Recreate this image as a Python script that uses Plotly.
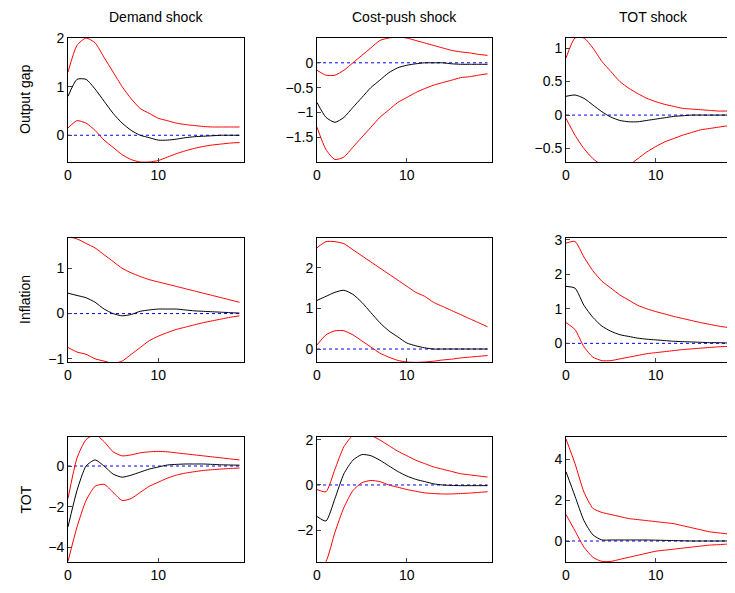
import plotly.graph_objects as go

t = list(range(20))
col_titles = ["Demand shock", "Cost-push shock", "TOT shock"]
row_titles = ["Output gap", "Inflation", "TOT"]

mean = [
 [[0.8,1.15,1.15,0.95,0.7,0.45,0.25,0.1,0,-0.05,-0.1,-0.1,-0.08,-0.05,-0.03,-0.02,-0.01,0,0,0],
  [-0.8,-1.1,-1.2,-1.1,-0.9,-0.7,-0.5,-0.35,-0.2,-0.1,-0.05,-0.02,0,0,0,-0.02,-0.03,-0.03,-0.03,-0.03],
  [0.28,0.3,0.25,0.15,0.05,-0.03,-0.08,-0.1,-0.1,-0.08,-0.06,-0.04,-0.02,-0.01,0,0,0,0,0,0]],
 [[0.45,0.4,0.35,0.25,0.1,0,-0.05,-0.02,0.05,0.08,0.1,0.1,0.1,0.08,0.06,0.05,0.04,0.03,0.02,0.01],
  [1.2,1.3,1.4,1.45,1.35,1.15,0.9,0.65,0.45,0.3,0.15,0.08,0.03,0,0,0,0,0,0,0],
  [1.65,1.6,1.1,0.75,0.5,0.35,0.25,0.2,0.15,0.12,0.1,0.08,0.06,0.05,0.04,0.03,0.02,0.02,0.01,0.01]],
 [[-3,-1.2,0,0.3,0,-0.4,-0.55,-0.45,-0.3,-0.15,-0.05,0.05,0.08,0.1,0.1,0.1,0.08,0.06,0.05,0.04],
  [-1.4,-1.6,-0.6,0.5,1.1,1.35,1.3,1.1,0.85,0.6,0.4,0.25,0.15,0.05,0,-0.02,-0.03,-0.03,-0.03,-0.03],
  [3.4,2.2,1.0,0.3,0.05,0.05,0.05,0.05,0.05,0.05,0.04,0.03,0.02,0.01,0,0,0,0,0,0]],
]
upper = [
 [[1.3,1.85,2.0,1.9,1.6,1.3,1.0,0.75,0.55,0.45,0.35,0.3,0.25,0.22,0.2,0.18,0.17,0.17,0.17,0.17],
  [-0.15,-0.25,-0.25,-0.15,0,0.15,0.3,0.45,0.5,0.52,0.5,0.45,0.4,0.35,0.3,0.25,0.22,0.2,0.17,0.15],
  [0.85,1.15,1.15,1.0,0.8,0.65,0.5,0.4,0.32,0.25,0.2,0.16,0.13,0.1,0.09,0.08,0.07,0.06,0.06,0.05]],
 [[1.7,1.65,1.55,1.45,1.3,1.15,1.0,0.9,0.82,0.75,0.7,0.65,0.6,0.55,0.5,0.45,0.4,0.35,0.3,0.25],
  [2.5,2.65,2.65,2.6,2.45,2.3,2.15,2.0,1.85,1.7,1.55,1.4,1.3,1.15,1.05,0.95,0.85,0.75,0.65,0.55],
  [2.9,2.95,2.5,2.1,1.8,1.6,1.4,1.25,1.1,1.0,0.92,0.85,0.78,0.72,0.66,0.6,0.55,0.5,0.46,0.42]],
 [[-1.6,0.4,1.3,1.55,1.2,0.7,0.5,0.55,0.65,0.7,0.72,0.7,0.65,0.6,0.55,0.5,0.45,0.4,0.35,0.3],
  [-0.2,-0.3,0.7,1.7,2.2,2.3,2.2,2.0,1.75,1.5,1.3,1.1,0.95,0.8,0.7,0.6,0.5,0.45,0.4,0.35],
  [5.0,3.8,2.4,1.6,1.4,1.3,1.2,1.1,1.05,1.0,0.95,0.9,0.85,0.75,0.65,0.55,0.45,0.4,0.35,0.3]],
]
lower = [
 [[0.15,0.3,0.25,0.1,-0.1,-0.25,-0.4,-0.5,-0.55,-0.55,-0.52,-0.45,-0.38,-0.32,-0.27,-0.23,-0.2,-0.18,-0.16,-0.15],
  [-1.3,-1.75,-1.95,-1.9,-1.7,-1.5,-1.3,-1.1,-0.95,-0.8,-0.7,-0.6,-0.52,-0.45,-0.4,-0.35,-0.3,-0.28,-0.25,-0.22],
  [-0.05,-0.3,-0.5,-0.65,-0.75,-0.8,-0.8,-0.75,-0.65,-0.55,-0.47,-0.4,-0.35,-0.3,-0.26,-0.22,-0.2,-0.18,-0.16,-0.15]],
 [[-0.75,-0.85,-0.9,-1.0,-1.05,-1.1,-1.05,-0.9,-0.75,-0.6,-0.5,-0.42,-0.35,-0.3,-0.25,-0.2,-0.16,-0.12,-0.08,-0.05],
  [0.1,0.35,0.45,0.45,0.35,0.2,0.05,-0.1,-0.2,-0.28,-0.32,-0.33,-0.32,-0.3,-0.27,-0.25,-0.22,-0.2,-0.18,-0.16],
  [0.6,0.4,-0.1,-0.4,-0.5,-0.5,-0.45,-0.4,-0.35,-0.3,-0.27,-0.24,-0.21,-0.18,-0.16,-0.14,-0.12,-0.1,-0.09,-0.08]],
 [[-4.7,-3,-1.7,-1.0,-0.9,-1.3,-1.7,-1.6,-1.3,-1.0,-0.8,-0.6,-0.45,-0.35,-0.28,-0.22,-0.18,-0.15,-0.12,-0.1],
  [-3.8,-3.4,-2.1,-1.0,-0.25,0.1,0.2,0.15,0,-0.1,-0.2,-0.28,-0.35,-0.38,-0.4,-0.4,-0.38,-0.36,-0.33,-0.3],
  [1.3,0.5,-0.3,-0.8,-1.0,-1.0,-0.9,-0.8,-0.7,-0.6,-0.5,-0.45,-0.4,-0.35,-0.3,-0.25,-0.2,-0.18,-0.15,-0.12]],
]
yranges = [[[-0.55,2],[-2,0.5],[-0.7,1.15]],
           [[-1.07,1.67],[-0.32,2.74],[-0.54,3.05]],
           [[-4.73,1.43],[-3.42,2.13],[-1.03,5.1]]]
yticks = [[[0,1,2],[-1.5,-1,-0.5,0],[-0.5,0,0.5,1]],
          [[-1,0,1],[0,1,2],[0,1,2,3]],
          [[-4,-2,0],[-2,0,2],[0,2,4]]]

W, H = 760, 593
OFF = 8  # page body margin
colpx = [(68,244),(317,492),(566,741)]
rowpx = [(38,162),(238,362),(437,562)]
font = dict(family="Arial", size=14, color="black")

def fx(p): return (p-OFF)/W
def fy(p): return 1-(p-OFF)/H

fig = go.Figure()
ann = []
for r in range(3):
    for c in range(3):
        k = r*3+c+1
        xa = "x" if k == 1 else f"x{k}"
        ya = "y" if k == 1 else f"y{k}"
        fig.add_trace(go.Scatter(x=[0,19], y=[0,0], mode="lines", xaxis=xa, yaxis=ya,
                                 line=dict(color="blue", width=1, dash="dot"), showlegend=False))
        for s, col in ((upper, "red"), (lower, "red"), (mean, "black")):
            fig.add_trace(go.Scatter(x=t, y=s[r][c], mode="lines", xaxis=xa, yaxis=ya,
                                     line=dict(color=col, width=1, shape="spline", smoothing=0.6),
                                     showlegend=False))
        axs = "" if k == 1 else str(k)
        x0, x1 = colpx[c]; y0, y1 = rowpx[r]
        fig.layout["xaxis"+axs] = dict(domain=[fx(x0), fx(x1)], anchor=ya, range=[0,19.5],
            tickvals=[0,10], ticks="inside", ticklen=4, showline=True, mirror=True, automargin=False,
            linecolor="black", linewidth=1, showgrid=False, zeroline=False, tickfont=font)
        fig.layout["yaxis"+axs] = dict(domain=[fy(y1), fy(y0)], anchor=xa, range=yranges[r][c],
            tickvals=yticks[r][c], ticks="inside", ticklen=4, showline=True, mirror=True, automargin=False,
            linecolor="black", linewidth=1, showgrid=False, zeroline=False, tickfont=font)
for c in range(3):
    ann.append(dict(text=col_titles[c], x=fx((colpx[c][0]+colpx[c][1])/2), y=fy(17),
                    xref="paper", yref="paper", showarrow=False, font=font,
                    xanchor="center", yanchor="middle"))
for r in range(3):
    ann.append(dict(text=row_titles[r], x=fx(25), y=fy((rowpx[r][0]+rowpx[r][1])/2),
                    xref="paper", yref="paper", showarrow=False, font=font, textangle=-90,
                    xanchor="center", yanchor="middle"))
fig.update_layout(width=W, height=H, margin=dict(l=0, r=0, t=0, b=0, pad=0),
                  plot_bgcolor="white", paper_bgcolor="white", annotations=ann)
fig.write_html("out.html")
